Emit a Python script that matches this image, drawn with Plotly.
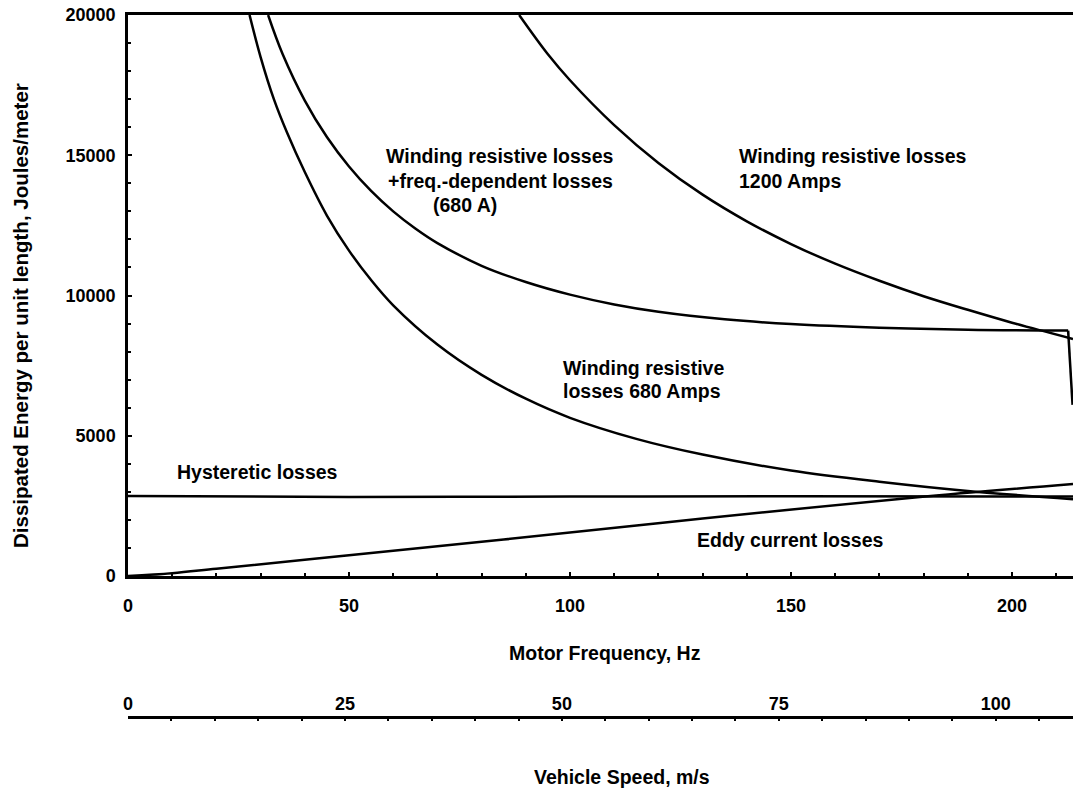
import plotly.graph_objects as go

# ---------------- data ----------------
# Winding resistive losses, 680 Amps
freq_680 = [27.5, 30, 33, 36, 40, 45, 50, 55, 60, 70, 80, 90, 100, 115, 130, 150, 170, 190, 213.8]
energy_680 = [20000, 18500, 17000, 15800, 14400, 12850, 11600, 10550, 9650, 8250, 7170, 6320,
              5640, 4890, 4330, 3760, 3360, 3030, 2740]

# Winding resistive + freq.-dependent losses (680 A)
freq_fd = [31.7, 35, 40, 45, 50, 55, 60, 65, 70, 80, 90, 100, 110, 120, 135, 150, 170, 190,
           212.7, 213.7]
energy_fd = [20000, 18600, 16950, 15650, 14600, 13730, 13000, 12390, 11870, 11060, 10480, 10030,
             9680, 9420, 9150, 8980, 8850, 8780, 8750, 6100]

# Winding resistive losses, 1200 Amps
freq_1200 = [88.5, 95, 100, 110, 120, 130, 140, 150, 160, 170, 180, 190, 200, 213.8]
energy_1200 = [20000, 18600, 17675, 16075, 14725, 13595, 12645, 11835, 11135, 10525, 9975,
               9490, 9030, 8450]

# Hysteretic losses
freq_hyst = [0, 50, 100, 150, 213.8]
energy_hyst = [2850, 2820, 2830, 2840, 2830]

# Eddy current losses
freq_eddy = [0, 10, 20, 50, 85, 130, 178, 213.8]
energy_eddy = [0, 100, 260, 740, 1300, 2050, 2800, 3280]

freq_ticks = [0, 50, 100, 150, 200]
energy_ticks = [0, 5000, 10000, 15000, 20000]
energy_ticktext = ["0", "5000", "10000", "15000", "20000"]
speed_ticks = [0, 25, 50, 75, 100]
freq_range = [0, 213.8]
speed_range = [0, 108.9]
energy_range = [0, 20000]

# ---------------- figure ----------------
FONT = "Liberation Sans"
fig = go.Figure()
LINE = dict(color="black", width=2.5, shape="spline", smoothing=1.0)


def add_curve(xs, ys, line=LINE):
    fig.add_trace(go.Scatter(x=xs, y=ys, mode="lines", line=line,
                             hoverinfo="skip", showlegend=False))


add_curve(freq_680, energy_680)
add_curve(freq_fd[:-1], energy_fd[:-1])
add_curve(freq_fd[-2:], energy_fd[-2:], dict(color="black", width=2.5))  # end drop
add_curve(freq_1200, energy_1200)
add_curve(freq_hyst, energy_hyst)
add_curve(freq_eddy, energy_eddy)

# invisible trace so that the vehicle-speed axis is drawn
fig.add_trace(go.Scatter(x=speed_range, y=[0, 0], xaxis="x2", mode="markers",
                         marker=dict(opacity=0), hoverinfo="skip", showlegend=False))

tickfont = dict(family=FONT, size=18, color="black", weight="bold")

fig.update_layout(
    width=1073, height=789,
    margin=dict(l=128, r=0, t=15, b=44),
    paper_bgcolor="white", plot_bgcolor="white",
    showlegend=False,
    xaxis=dict(range=freq_range, tickvals=freq_ticks, showgrid=False, zeroline=False,
               showline=True, linecolor="black", linewidth=2.5, mirror=True,
               ticks="inside", ticklen=4, tickwidth=2, tickcolor="black",
               minor=dict(dtick=10, ticks="inside", ticklen=3, tickwidth=2, tickcolor="black"),
               tickfont=tickfont, ticklabelstandoff=12),
    yaxis=dict(range=energy_range, tickvals=energy_ticks, ticktext=energy_ticktext,
               domain=[0.2315, 1], showgrid=False,
               zeroline=False, showline=True, linecolor="black", linewidth=2.5,
               ticks="inside", ticklen=4, tickwidth=2, tickcolor="black",
               minor=dict(dtick=1000, ticks="inside", ticklen=3, tickwidth=2, tickcolor="black"),
               tickfont=tickfont, ticklabelstandoff=6),
    xaxis2=dict(overlaying="x", anchor="free", position=0.0377, side="top",
                range=speed_range, tickvals=speed_ticks, showgrid=False, zeroline=False,
                showline=True, linecolor="black", linewidth=2.5,
                ticks="inside", ticklen=2, tickwidth=2, tickcolor="black",
                minor=dict(dtick=5, ticks="inside", ticklen=2, tickwidth=2, tickcolor="black"),
                tickfont=tickfont, ticklabelstandoff=0),
)

labfont = dict(family=FONT, size=19.5, color="black", weight="bold")
labels = [
    ("Winding resistive losses", 84.2, 14970, "center"),
    ("+freq.-dependent losses", 84.2, 14080, "center"),
    ("(680 A)", 76.2, 13230, "center"),
    ("Winding resistive losses", 137.8, 14970, "left"),
    ("1200 Amps", 137.8, 14080, "left"),
    ("Winding resistive", 98.0, 7415, "left"),
    ("losses 680 Amps", 98.0, 6595, "left"),
    ("Hysteretic losses", 10.6, 3710, "left"),
    ("Eddy current losses", 128.3, 1280, "left"),
]
for text, x, y, anchor in labels:
    fig.add_annotation(text=text, x=x, y=y, xref="x", yref="y", xanchor=anchor, yanchor="middle",
                       showarrow=False, font=labfont)

# axis titles
fig.add_annotation(text="Motor Frequency, Hz", x=0.505, y=0.126, xref="paper", yref="paper",
                   xanchor="center", yanchor="middle", showarrow=False, font=labfont)
fig.add_annotation(text="Vehicle Speed, m/s", x=0.523, y=-0.044, xref="paper", yref="paper",
                   xanchor="center", yanchor="middle", showarrow=False, font=labfont)
fig.add_annotation(text="Dissipated Energy per unit length, Joules/meter", x=-0.1143, y=0.589,
                   xref="paper", yref="paper", xanchor="center", yanchor="middle",
                   textangle=-90, showarrow=False,
                   font=dict(family=FONT, size=20.5, color="black", weight="bold"))

fig.write_html("out.html")
